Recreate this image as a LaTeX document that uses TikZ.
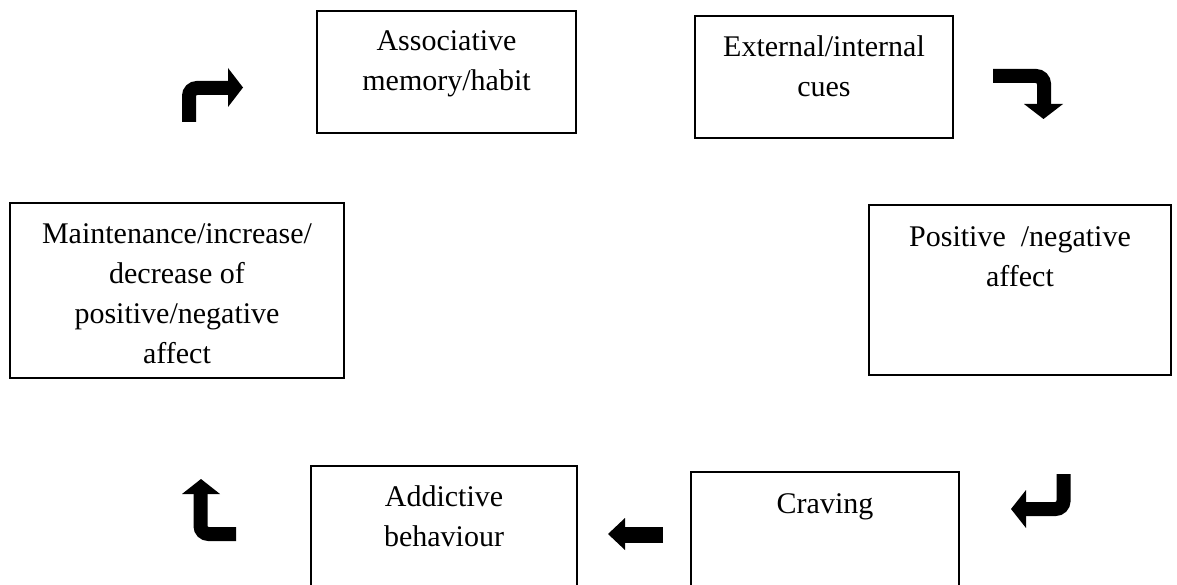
\documentclass[tikz,border=0pt]{standalone}
\usepackage{fontspec}
\setmainfont{Liberation Serif}
\begin{document}
\begin{tikzpicture}[x=1pt,y=-1pt,
  box/.style={draw=black,line width=1.6pt,rectangle,inner sep=0pt},
  txt/.style={font=\fontsize{30}{40}\selectfont,align=center,inner sep=0pt,anchor=north},
  bent/.style={line width=14pt,rounded corners=8pt,line cap=butt,draw=black},
  head/.style={fill=black}]
\useasboundingbox (0,0) rectangle (1177,585);
% boxes
\node[box,minimum width=259pt,minimum height=122pt] (b1) at (446.5,72) {};
\node[box,minimum width=258pt,minimum height=122pt] (b2) at (824,77) {};
\node[box,minimum width=302pt,minimum height=170pt] (b3) at (1020,290) {};
\node[box,minimum width=334pt,minimum height=175pt] (b4) at (177,290.5) {};
\node[box,minimum width=266pt,minimum height=160pt] (b5) at (444,546) {};
\node[box,minimum width=268pt,minimum height=160pt] (b6) at (825,552) {};
% texts
\node[txt] (t1) at (446.5,22) {\strut Associative\\memory/habit};
\node[txt] (t2) at (824,28) {\strut External/internal\\cues};
\node[txt] (t3) at (1020,218) {\strut Positive\ \ /negative\\affect};
\node[txt] (t4) at (177,215) {\strut Maintenance/increase/\\decrease of\\positive/negative\\affect};
\node[txt] (t5) at (444,478) {\strut Addictive\\behaviour};
\node[txt] (t6) at (825,485) {\strut Craving};
% arrows
\draw[bent] (189,122) -- (189,88) -- (229,88);
\fill[head] (228,68) -- (243,87.5) -- (228,107) -- cycle;
\draw[bent] (993,76) -- (1044,76) -- (1044,105);
\fill[head] (1024,104) -- (1063,104) -- (1043.5,119) -- cycle;
\draw[bent] (1063.5,474) -- (1063.5,509) -- (1025,509);
\fill[head] (1026,490) -- (1011,509) -- (1026,528) -- cycle;
\draw[bent] (236,534) -- (200.5,534) -- (200.5,493);
\fill[head] (182,494) -- (201,479) -- (220,494) -- cycle;
\draw[line width=16pt,draw=black] (663,535) -- (624,535);
\fill[head] (625,518) -- (608,534) -- (625,550) -- cycle;
\end{tikzpicture}
\end{document}
